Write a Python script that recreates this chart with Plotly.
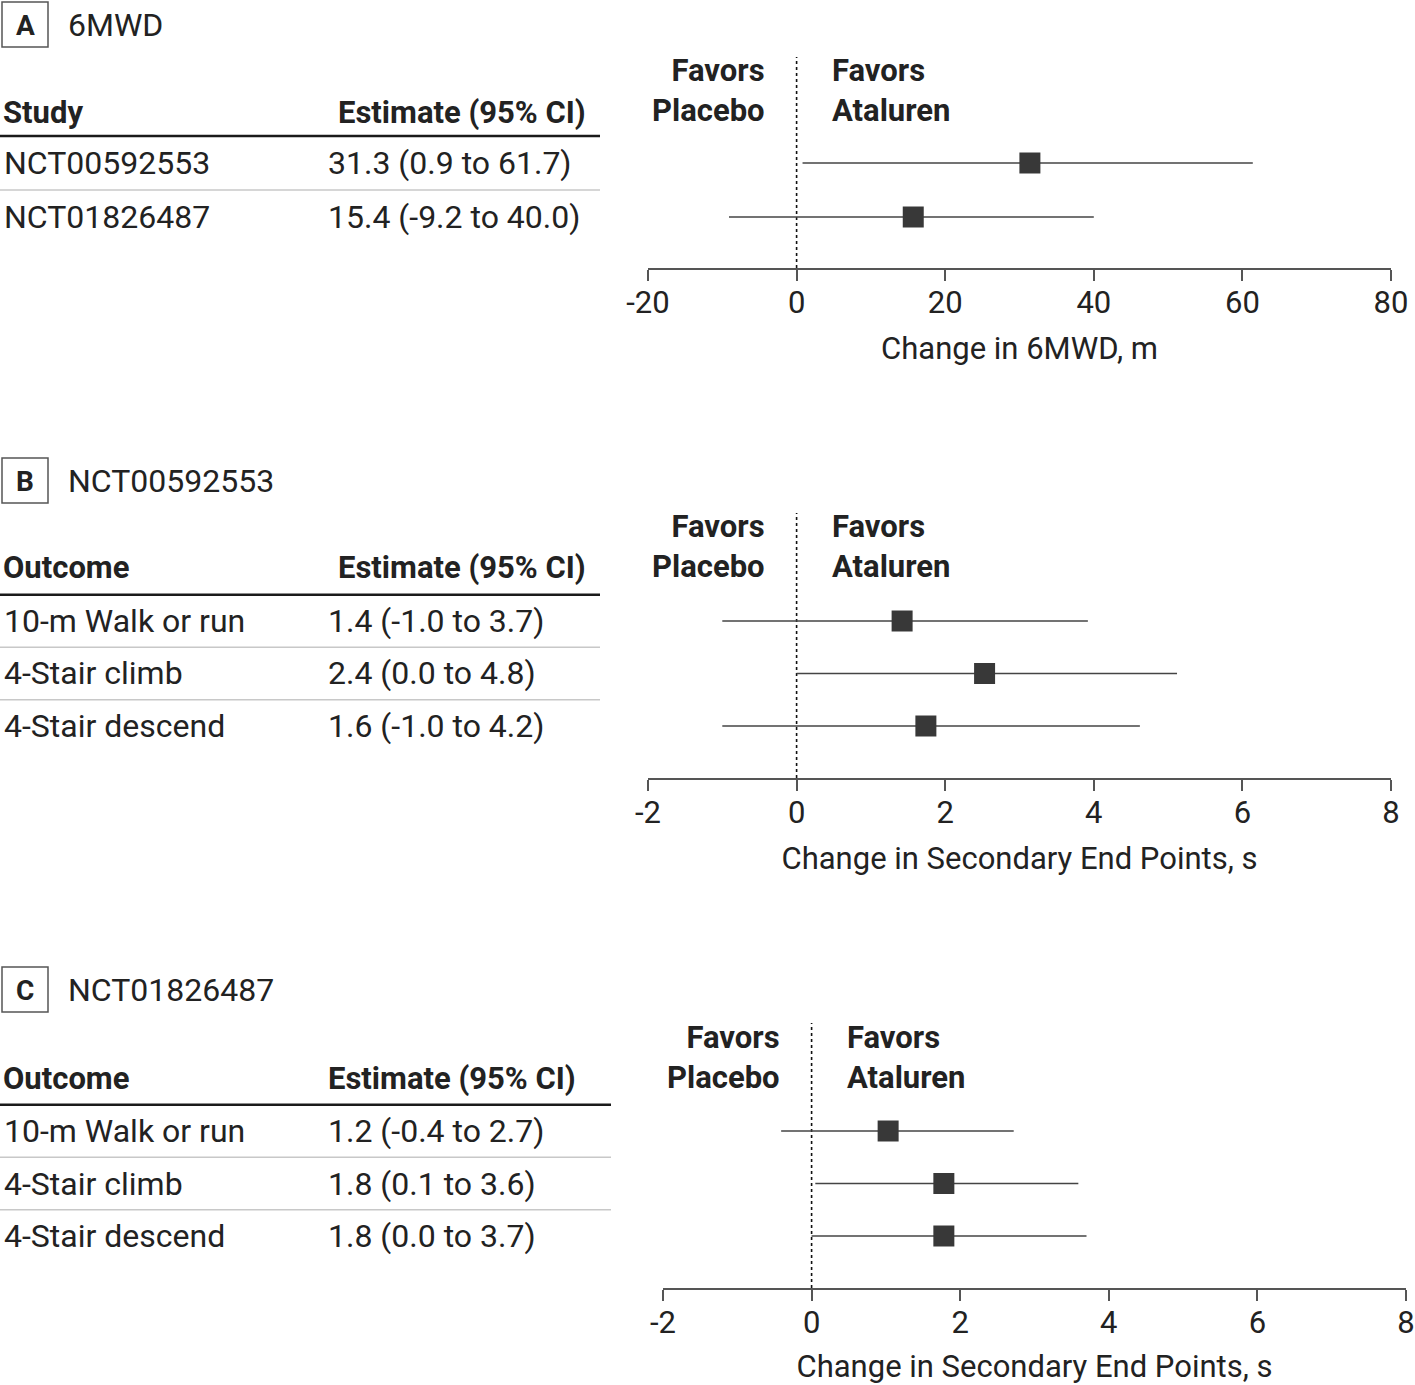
import plotly.graph_objects as go

W, H = 1415, 1385
FONT = "Roboto, 'Open Sans', sans-serif"
TXT = "#222222"
MARK = "#383838"
CI_COL = "#444444"
AX_COL = "#555555"

# ---------------- Data ----------------
# Panel A: 6MWD
a_labels = ["NCT00592553", "NCT01826487"]
a_est_text = ["31.3 (0.9 to 61.7)", "15.4 (-9.2 to 40.0)"]
a_est = [31.4, 15.7]
a_lo = [0.8, -9.1]
a_hi = [61.4, 40.0]
a_ticks = [-20, 0, 20, 40, 60, 80]
a_ticktext = ["-20", "0", "20", "40", "60", "80"]

# Panel B: NCT00592553
b_labels = ["10-m Walk or run", "4-Stair climb", "4-Stair descend"]
b_est_text = ["1.4 (-1.0 to 3.7)", "2.4 (0.0 to 4.8)", "1.6 (-1.0 to 4.2)"]
b_est = [1.42, 2.53, 1.74]
b_lo = [-1.0, 0.0, -1.0]
b_hi = [3.92, 5.12, 4.62]
b_ticks = [-2, 0, 2, 4, 6, 8]
b_ticktext = ["-2", "0", "2", "4", "6", "8"]

# Panel C: NCT01826487
c_labels = ["10-m Walk or run", "4-Stair climb", "4-Stair descend"]
c_est_text = ["1.2 (-0.4 to 2.7)", "1.8 (0.1 to 3.6)", "1.8 (0.0 to 3.7)"]
c_est = [1.03, 1.78, 1.78]
c_lo = [-0.41, 0.05, 0.0]
c_hi = [2.72, 3.59, 3.70]
c_ticks = [-2, 0, 2, 4, 6, 8]
c_ticktext = ["-2", "0", "2", "4", "6", "8"]

panels = [
    dict(letter="A", name="6MWD", col1="Study", labels=a_labels, est_text=a_est_text,
         est=a_est, lo=a_lo, hi=a_hi, ticks=a_ticks, ticktext=a_ticktext,
         xtitle="Change in 6MWD, m", xrange=[-20, 80],
         # layout (pixels)
         title_y=25, px0=648, px1=1391, ytop=57, ybot=268, row0=163, sp=54, head=112,
         tab_right=600, est_x=326, head_est_x=336),
    dict(letter="B", name="NCT00592553", col1="Outcome", labels=b_labels, est_text=b_est_text,
         est=b_est, lo=b_lo, hi=b_hi, ticks=b_ticks, ticktext=b_ticktext,
         xtitle="Change in Secondary End Points, s", xrange=[-2, 8],
         title_y=481, px0=648, px1=1391, ytop=513, ybot=778, row0=621, sp=52.5, head=568,
         tab_right=600, est_x=326, head_est_x=336),
    dict(letter="C", name="NCT01826487", col1="Outcome", labels=c_labels, est_text=c_est_text,
         est=c_est, lo=c_lo, hi=c_hi, ticks=c_ticks, ticktext=c_ticktext,
         xtitle="Change in Secondary End Points, s", xrange=[-2, 8],
         title_y=990, px0=663, px1=1406, ytop=1023, ybot=1288, row0=1131, sp=52.5, head=1078,
         tab_right=611, est_x=326, head_est_x=326),
]


def px(x):
    return x / W


def py(y):
    return 1 - y / H


fig = go.Figure()
shapes = []
annotations = []
layout_axes = {}

FS = 31
FS_T = 32

for k, p in enumerate(panels, start=1):
    xa = "x" if k == 1 else f"x{k}"
    ya = "y" if k == 1 else f"y{k}"
    xkey = "xaxis" if k == 1 else f"xaxis{k}"
    ykey = "yaxis" if k == 1 else f"yaxis{k}"
    n = len(p["labels"])
    rows = list(range(n))

    fig.add_trace(go.Scatter(
        x=p["est"], y=rows, xaxis=xa, yaxis=ya, mode="markers",
        marker=dict(symbol="square", size=21, color=MARK, line=dict(width=0)),
        error_x=dict(type="data", symmetric=False,
                     array=[h - e for h, e in zip(p["hi"], p["est"])],
                     arrayminus=[e - l for e, l in zip(p["est"], p["lo"])],
                     width=0, thickness=1.6, color=CI_COL),
        showlegend=False, hoverinfo="skip"))

    sp = p["sp"]
    y_top = -(p["row0"] - p["ytop"]) / sp
    last = p["row0"] + (n - 1) * sp
    y_bot = (n - 1) + (p["ybot"] - last) / sp
    head_y = (p["head"] - p["row0"]) / sp

    layout_axes[xkey] = dict(
        domain=[px(p["px0"]), px(p["px1"])], anchor=ya, range=p["xrange"],
        showgrid=False, zeroline=False, showline=True, linecolor=AX_COL, linewidth=2,
        ticks="outside", ticklen=11, tickwidth=2, tickcolor=AX_COL,
        tickvals=p["ticks"], ticktext=p["ticktext"], ticklabelstandoff=-5,
        tickfont=dict(family=FONT, size=FS, color=TXT), automargin=False,
        title=dict(text=p["xtitle"], font=dict(family=FONT, size=FS, color=TXT), standoff=17),
        fixedrange=True)
    layout_axes[ykey] = dict(
        domain=[py(p["ybot"]), py(p["ytop"])], anchor=xa, range=[y_bot, y_top],
        visible=False, showgrid=False, zeroline=False, fixedrange=True, automargin=False)

    # dotted line at zero
    shapes.append(dict(type="line", xref=xa, yref=f"{ya} domain", x0=0, x1=0, y0=0, y1=1,
                       line=dict(color="#111111", width=1.6, dash="dot"), layer="below"))

    # panel letter box & title
    bt = p["title_y"] - 23
    shapes.append(dict(type="rect", xref="paper", yref="paper",
                       x0=px(2), x1=px(48), y0=py(bt), y1=py(bt + 45),
                       line=dict(color=AX_COL, width=1.5), fillcolor="rgba(0,0,0,0)"))
    annotations.append(dict(text=f"<b>{p['letter']}</b>", xref="paper", yref="paper",
                            x=px(25), y=py(p["title_y"]), xanchor="center", yanchor="middle",
                            showarrow=False, font=dict(family=FONT, size=28, color=TXT)))
    annotations.append(dict(text=p["name"], xref="paper", yref="paper",
                            x=px(66), y=py(p["title_y"]), xanchor="left", yanchor="middle",
                            showarrow=False, font=dict(family=FONT, size=FS_T, color=TXT)))

    # table headers
    annotations.append(dict(text=f"<b>{p['col1']}</b>", xref="paper", yref=ya,
                            x=px(1), y=head_y, xanchor="left", yanchor="middle",
                            showarrow=False, font=dict(family=FONT, size=FS, color=TXT)))
    annotations.append(dict(text="<b>Estimate (95% CI)</b>", xref="paper", yref=ya,
                            x=px(p["head_est_x"]), y=head_y, xanchor="left", yanchor="middle",
                            showarrow=False, font=dict(family=FONT, size=FS, color=TXT)))
    shapes.append(dict(type="line", xref="paper", yref=ya, x0=0, x1=px(p["tab_right"]),
                       y0=-0.5, y1=-0.5, line=dict(color="#1a1a1a", width=2.5)))

    # table rows
    for i in rows:
        annotations.append(dict(text=p["labels"][i], xref="paper", yref=ya,
                                x=px(2), y=i, xanchor="left", yanchor="middle",
                                showarrow=False, font=dict(family=FONT, size=FS_T, color=TXT)))
        annotations.append(dict(text=p["est_text"][i], xref="paper", yref=ya,
                                x=px(p["est_x"]), y=i, xanchor="left", yanchor="middle",
                                showarrow=False, font=dict(family=FONT, size=FS_T, color=TXT)))
        if i < n - 1:
            shapes.append(dict(type="line", xref="paper", yref=ya, x0=0, x1=px(p["tab_right"]),
                               y0=i + 0.5, y1=i + 0.5, line=dict(color="#c8c8c8", width=1.5)))

    # favors labels
    fav_y = head_y - 0.4
    annotations.append(dict(text="<b>Favors<br>Placebo</b>", xref=xa, yref=ya, x=0, y=fav_y,
                            xshift=-30, xanchor="right", yanchor="middle", align="right",
                            showarrow=False, font=dict(family=FONT, size=FS, color=TXT)))
    annotations.append(dict(text="<b>Favors<br>Ataluren</b>", xref=xa, yref=ya, x=0, y=fav_y,
                            xshift=33, xanchor="left", yanchor="middle", align="left",
                            showarrow=False, font=dict(family=FONT, size=FS, color=TXT)))

fig.update_layout(
    width=W, height=H, margin=dict(l=0, r=0, t=0, b=0, autoexpand=False),
    paper_bgcolor="white", plot_bgcolor="white",
    shapes=shapes, annotations=annotations, showlegend=False,
    font=dict(family=FONT, color=TXT),
    **layout_axes)

fig.write_html("out.html", config={"displayModeBar": False, "staticPlot": True},
               post_script="document.body.style.margin='0';document.body.style.overflow='hidden';")
